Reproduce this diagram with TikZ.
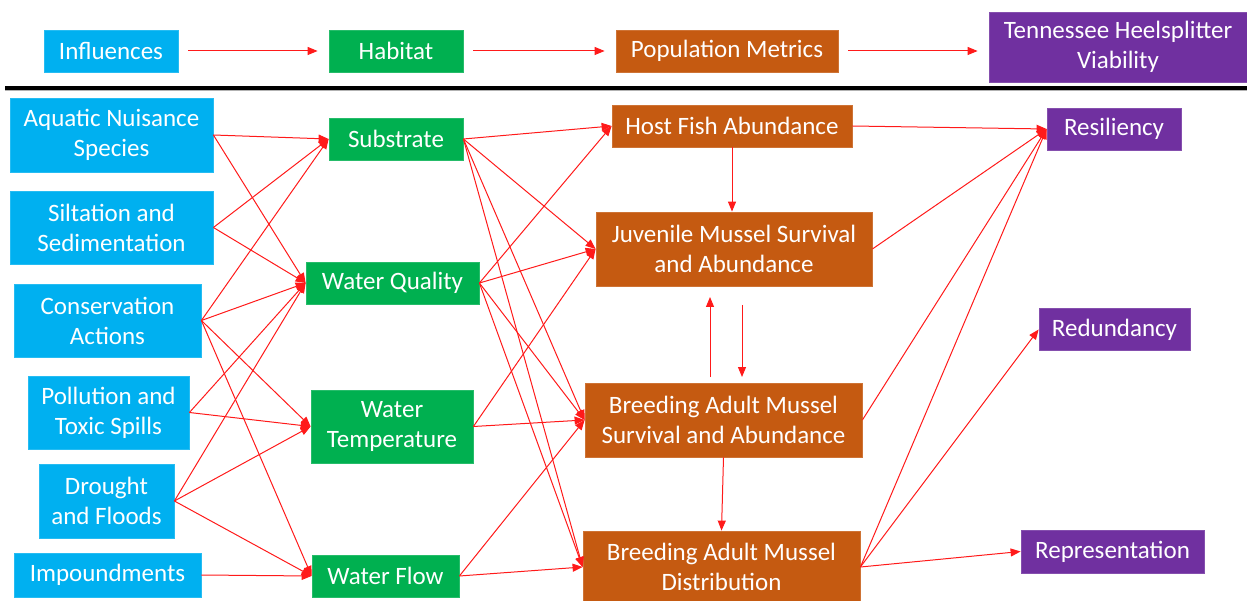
\documentclass[tikz,border=0pt]{standalone}
\usepackage{fontspec}
\setmainfont{Carlito}
\usetikzlibrary{arrows.meta}

\definecolor{infblue}{HTML}{00B0F0}
\definecolor{habgreen}{HTML}{00B050}
\definecolor{poporange}{HTML}{C55A11}
\definecolor{viapurple}{HTML}{7030A0}
\definecolor{linkred}{HTML}{FF1A1A}

\tikzset{
  box/.style={rectangle, text=white, align=center, inner sep=0pt, line width=0.8pt,
    font=\fontsize{25}{30}\selectfont},
  influence/.style={box, fill=infblue, draw=infblue!85!white},
  habitat/.style={box, fill=habgreen, draw=habgreen!85!white},
  metric/.style={box, fill=poporange, draw=poporange!85!white},
  viab/.style={box, fill=viapurple, draw=viapurple!85!white},
  link/.style={linkred, line width=1pt, -{Triangle[length=10pt,width=8pt]}},
}

\begin{document}
\begin{tikzpicture}[x=1pt,y=-1pt]
\useasboundingbox (0,0) rectangle (1247,601);

% legend row
\node[influence, minimum width=134pt, minimum height=42pt] (kinf) at (111,51) {Influences};
\node[habitat, minimum width=134pt, minimum height=42pt] (khab) at (396,51) {Habitat};
\node[metric, minimum width=222pt, minimum height=42pt] (kpop) at (727,51) {Population Metrics};
\node[viab, minimum width=258pt, minimum height=70pt] (kvia) at (1118,47) {Tennessee Heelsplitter\\Viability};

\draw[link, shorten <=10pt, shorten >=11pt] (kinf) -- (khab);
\draw[link, shorten <=10pt, shorten >=11pt] (khab) -- (kpop);
\draw[link, shorten <=10pt, shorten >=11pt] (kpop) -- (kpop -| kvia.west);

\draw[gray!60, line width=2pt] (5,90.5) -- (1247,90.5);
\draw[black, line width=3.5pt] (5,88) -- (1247,88);

% influences
\node[influence, minimum width=203pt, minimum height=74pt] (ans) at (111.5,135) {Aquatic Nuisance\\Species};
\node[influence, minimum width=203pt, minimum height=73pt] (silt) at (111.5,227.5) {Siltation and\\Sedimentation};
\node[influence, minimum width=187pt, minimum height=73pt] (cons) at (107.5,320.5) {Conservation\\Actions};
\node[influence, minimum width=161pt, minimum height=73pt] (poll) at (108.5,412.5) {Pollution and\\Toxic Spills};
\node[influence, minimum width=135pt, minimum height=74pt] (drou) at (106.5,501) {Drought\\and Floods};
\node[influence, minimum width=187pt, minimum height=44pt] (impd) at (107.5,575) {Impoundments};

% habitat
\node[habitat, minimum width=134pt, minimum height=42pt] (subs) at (396,139) {Substrate};
\node[habitat, minimum width=173pt, minimum height=42pt] (wqual) at (392.5,283) {Water Quality};
\node[habitat, minimum width=162pt, minimum height=73pt] (wtemp) at (392,426.5) {Water\\Temperature};
\node[habitat, minimum width=147pt, minimum height=42pt] (wflow) at (385.5,576) {Water Flow};

% population metrics
\node[metric, minimum width=240pt, minimum height=42pt] (host) at (732,126) {Host Fish Abundance};
\node[metric, minimum width=276pt, minimum height=74pt] (juv) at (734,249) {Juvenile Mussel Survival\\and Abundance};
\node[metric, minimum width=277pt, minimum height=74pt] (bsurv) at (723.5,420) {Breeding Adult Mussel\\Survival and Abundance};
\node[metric, minimum width=277pt, minimum height=72pt] (bdist) at (721.5,567) {Breeding Adult Mussel\\Distribution};

% viability
\node[viab, minimum width=134pt, minimum height=42pt] (resil) at (1114,129) {Resiliency};
\node[viab, minimum width=151pt, minimum height=42pt] (redun) at (1114.5,329.5) {Redundancy};
\node[viab, minimum width=183pt, minimum height=43pt] (repr) at (1112.5,551.5) {Representation};

\coordinate (upfrom) at (710,377);
\coordinate (upto) at (710,297);
\coordinate (dnfrom) at (742,305);
\coordinate (dnto) at (742,377);

% influences -> habitat
\draw[link] (ans.east) -- (subs.west);
\draw[link] (ans.east) -- (wqual.west);
\draw[link] (silt.east) -- (subs.west);
\draw[link] (silt.east) -- (wqual.west);
\draw[link] (cons.east) -- (subs.west);
\draw[link] (cons.east) -- (wqual.west);
\draw[link] (cons.east) -- (wtemp.west);
\draw[link] (cons.east) -- (wflow.west);
\draw[link] (poll.east) -- (wqual.west);
\draw[link] (poll.east) -- (wtemp.west);
\draw[link] (drou.east) -- (wqual.west);
\draw[link] (drou.east) -- (wtemp.west);
\draw[link] (drou.east) -- (wflow.west);
\draw[link] (impd.east) -- (wflow.west);

% habitat -> population metrics
\draw[link] (subs.east) -- (host.west);
\draw[link] (subs.east) -- (juv.west);
\draw[link] (subs.east) -- (bsurv.west);
\draw[link] (subs.east) -- (bdist.west);
\draw[link] (wqual.east) -- (host.west);
\draw[link] (wqual.east) -- (juv.west);
\draw[link] (wqual.east) -- (bsurv.west);
\draw[link] (wqual.east) -- (bdist.west);
\draw[link] (wtemp.east) -- (juv.west);
\draw[link] (wtemp.east) -- (bsurv.west);
\draw[link] (wflow.east) -- (bsurv.west);
\draw[link] (wflow.east) -- (bdist.west);

\draw[link] (host.south) -- (host.south |- juv.north);
\draw[link] (upfrom) -- (upto);
\draw[link] (dnfrom) -- (dnto);
\draw[link] (bsurv.south) -- (bdist.north);

% population metrics -> viability
\draw[link] (host.east) -- (resil.west);
\draw[link] (juv.east) -- (resil.west);
\draw[link] (bsurv.east) -- (resil.west);
\draw[link] (bdist.east) -- (resil.west);
\draw[link] (bdist.east) -- (redun.west);
\draw[link] (bdist.east) -- (repr.west);

\end{tikzpicture}
\end{document}
